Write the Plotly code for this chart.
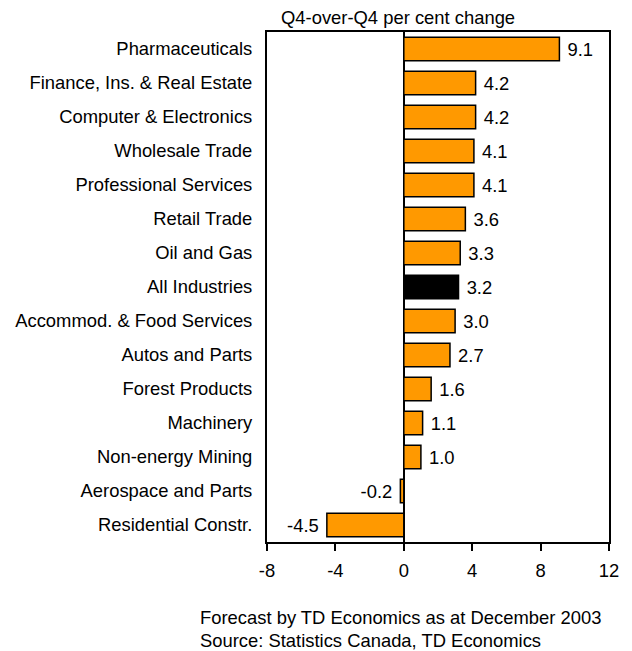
import plotly.graph_objects as go

categories = ["Pharmaceuticals", "Finance, Ins. & Real Estate", "Computer & Electronics",
              "Wholesale Trade", "Professional Services", "Retail Trade", "Oil and Gas",
              "All Industries", "Accommod. & Food Services", "Autos and Parts",
              "Forest Products", "Machinery", "Non-energy Mining", "Aerospace and Parts",
              "Residential Constr."]
values = [9.1, 4.2, 4.2, 4.1, 4.1, 3.6, 3.3, 3.2, 3.0, 2.7, 1.6, 1.1, 1.0, -0.2, -4.5]
highlight = "All Industries"
x_ticks = [-8, -4, 0, 4, 8, 12]
x_tick_labels = ["-8", "-4", "0", "4", "8", "12"]

colors = ["#000000" if c == highlight else "#FF9900" for c in categories]
labels = [(" %.1f" % v) if v >= 0 else ("%.1f " % v) for v in values]

FONT = "Liberation Sans, Arial"
FS = 18.4

fig = go.Figure()
fig.add_trace(go.Bar(
    y=categories, x=values, orientation="h",
    marker=dict(color=colors, line=dict(color="black", width=1.5)),
    text=labels, textposition="outside",
    textfont=dict(family=FONT, size=FS, color="black"),
    cliponaxis=False, width=0.69,
))

L, R, T, B = 267, 23, 32, 109
W, H = 632, 651
fig.update_layout(
    width=W, height=H,
    margin=dict(l=L, r=R, t=T, b=B),
    plot_bgcolor="white", paper_bgcolor="white",
    font=dict(family=FONT, size=FS, color="black"),
    showlegend=False,
    xaxis=dict(range=[-8, 12], tickvals=x_ticks, ticktext=x_tick_labels,
               ticks="outside", ticklen=7, tickwidth=2,
               tickcolor="black", showgrid=False, zeroline=True, zerolinecolor="black",
               zerolinewidth=2, showline=True, linecolor="black", linewidth=2, mirror=True,
               ticklabelstandoff=4, tickfont=dict(size=FS)),
    yaxis=dict(autorange="reversed", showgrid=False, showline=True, linecolor="black",
               linewidth=2, mirror=True, ticks="", ticklabelstandoff=9,
               tickfont=dict(size=FS)),
)

pw, ph = W - L - R, H - T - B
def px(x, y):
    return (x - L) / pw, (H - y - B) / ph

notes = [("Q4-over-Q4 per cent change", 279, 17),
         ("Forecast by TD Economics as at December 2003", 198, 617),
         ("Source: Statistics Canada, TD Economics", 198, 640)]
for txt, x, y in notes:
    ax, ay = px(x, y)
    fig.add_annotation(text=txt, x=ax, y=ay, xref="paper", yref="paper",
                       showarrow=False, xanchor="left", yanchor="middle",
                       font=dict(family=FONT, size=FS, color="black"))

fig.write_html("out.html")
